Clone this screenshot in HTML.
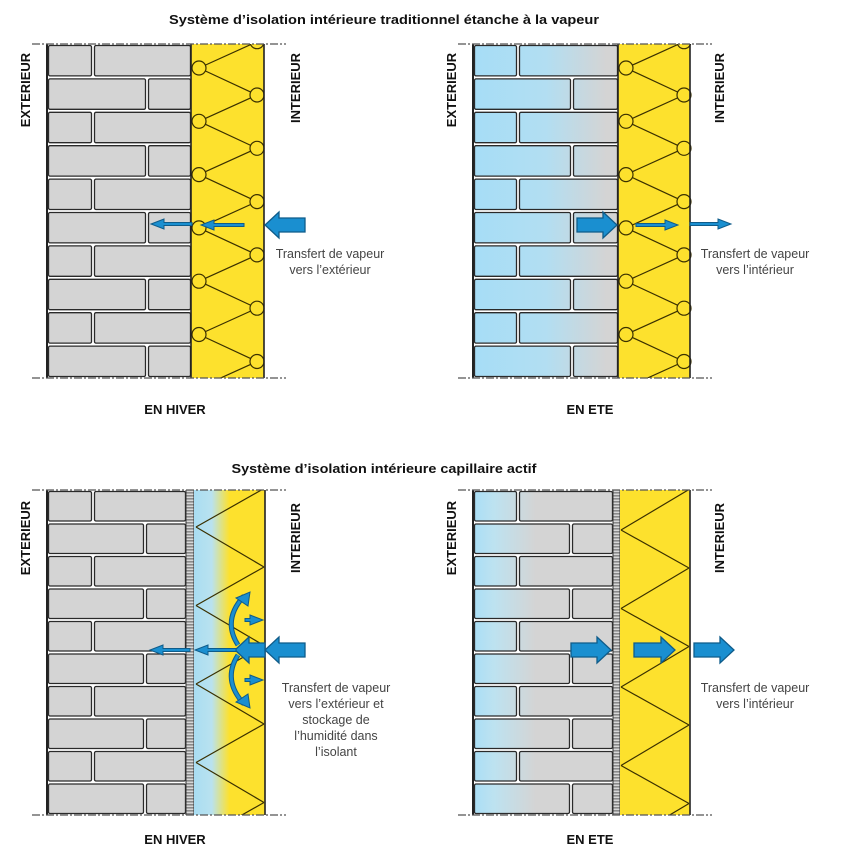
<!DOCTYPE html>
<html><head><meta charset="utf-8"><style>
html,body{margin:0;padding:0;background:#fff;overflow:hidden;width:846px;height:857px}
svg{display:block}
text{font-family:"Liberation Sans",sans-serif}
.t{font-weight:bold;font-size:13px;fill:#111}
.l{font-weight:bold;font-size:13px;fill:#111}
.d{font-size:12.5px;fill:#444}
</style></head><body>
<svg id="s" width="846" height="857" viewBox="0 0 846 857" xmlns="http://www.w3.org/2000/svg">
<defs>
<linearGradient id="gTR" x1="473" x2="618" y1="0" y2="0" gradientUnits="userSpaceOnUse">
<stop offset="0" stop-color="#a6ddf6"/><stop offset="0.5" stop-color="#b2def2"/><stop offset="0.92" stop-color="#d4d4d4"/></linearGradient>
<linearGradient id="gBR" x1="473" x2="613" y1="0" y2="0" gradientUnits="userSpaceOnUse">
<stop offset="0" stop-color="#a9def6"/><stop offset="0.15" stop-color="#bde2f0"/><stop offset="0.45" stop-color="#d4d4d4"/><stop offset="1" stop-color="#d4d4d4"/></linearGradient>
<linearGradient id="gBL" x1="194" x2="265" y1="0" y2="0" gradientUnits="userSpaceOnUse">
<stop offset="0" stop-color="#a9ddf2"/><stop offset="0.25" stop-color="#b9e2ef"/><stop offset="0.5" stop-color="#fde12d"/><stop offset="1" stop-color="#fde12d"/></linearGradient>
<pattern id="mesh" width="8" height="3" patternUnits="userSpaceOnUse"><rect width="8" height="3" fill="#8a8a8a"/><rect y="1.6" width="8" height="1.4" fill="#d8d8d8"/></pattern>
</defs>
<g id="g"></g>
<text class="t" x="384" y="24" text-anchor="middle" textLength="430" lengthAdjust="spacingAndGlyphs">Système d’isolation intérieure traditionnel étanche à la vapeur</text>
<text class="t" x="384" y="473" text-anchor="middle" textLength="305" lengthAdjust="spacingAndGlyphs">Système d’isolation intérieure capillaire actif</text>
<text class="l" transform="translate(30,90) rotate(-90)" text-anchor="middle">EXTERIEUR</text>
<text class="l" transform="translate(300,88) rotate(-90)" text-anchor="middle">INTERIEUR</text>
<text class="l" transform="translate(456,90) rotate(-90)" text-anchor="middle">EXTERIEUR</text>
<text class="l" transform="translate(724,88) rotate(-90)" text-anchor="middle">INTERIEUR</text>
<text class="l" transform="translate(30,538) rotate(-90)" text-anchor="middle">EXTERIEUR</text>
<text class="l" transform="translate(300,538) rotate(-90)" text-anchor="middle">INTERIEUR</text>
<text class="l" transform="translate(456,538) rotate(-90)" text-anchor="middle">EXTERIEUR</text>
<text class="l" transform="translate(724,538) rotate(-90)" text-anchor="middle">INTERIEUR</text>
<text class="l" x="175" y="414" text-anchor="middle">EN HIVER</text>
<text class="l" x="590" y="414" text-anchor="middle">EN ETE</text>
<text class="l" x="175" y="844" text-anchor="middle">EN HIVER</text>
<text class="l" x="590" y="844" text-anchor="middle">EN ETE</text>
<text class="d" x="330" y="258" text-anchor="middle">Transfert de vapeur</text>
<text class="d" x="330" y="274" text-anchor="middle">vers l’extérieur</text>
<text class="d" x="755" y="258" text-anchor="middle">Transfert de vapeur</text>
<text class="d" x="755" y="274" text-anchor="middle">vers l’intérieur</text>
<text class="d" x="336" y="692" text-anchor="middle">Transfert de vapeur</text>
<text class="d" x="336" y="708" text-anchor="middle">vers l’extérieur et</text>
<text class="d" x="336" y="724" text-anchor="middle">stockage de</text>
<text class="d" x="336" y="740" text-anchor="middle">l’humidité dans</text>
<text class="d" x="336" y="756" text-anchor="middle">l’isolant</text>
<text class="d" x="755" y="692" text-anchor="middle">Transfert de vapeur</text>
<text class="d" x="755" y="708" text-anchor="middle">vers l’intérieur</text>
</svg>
<script>
var G=document.getElementById("g"),h="";
function R(x,y,w,hh,f,s,sw,rx){h+='<rect x="'+x+'" y="'+y+'" width="'+w+'" height="'+hh+'" fill="'+f+'" stroke="'+(s||"none")+'" stroke-width="'+(sw||1)+'" rx="'+(rx||0)+'"/>';}
function L(x1,y1,x2,y2,s,sw,da){h+='<line x1="'+x1+'" y1="'+y1+'" x2="'+x2+'" y2="'+y2+'" stroke="'+s+'" stroke-width="'+sw+'"'+(da?' stroke-dasharray="'+da+'"':'')+'/>';}
function wall(x0,x1,y0,y1,rows,jA,jB,fill){
 R(x0,y0,x1-x0,y1-y0,"#fff");
 var rh=(y1-y0)/rows;
 for(var r=0;r<rows;r++){var y=y0+r*rh,j=x0+(r%2?jB:jA);
  R(x0+1.5,y+1.5,j-x0-3,rh-3,fill,"#2a2a2a",1.3,1.5);
  R(j+1.5,y+1.5,x1-j-2,rh-3,fill,"#2a2a2a",1.3,1.5);}
 L(x0,y0,x0,y1,"#222",2);
}
function dash(x0,x1,y){L(x0,y,x1,y,"#555",1.2,"8 2 2 2");}
function zz(xl,xr,yl,yr,y0,y1,per,circ){
 var a=[],b=[];
 for(var k=-2;k<10;k++){a.push(yl+k*per);b.push(yr+k*per);}
 var d="";
 for(var k=0;k<a.length;k++){d+="M"+xl+" "+a[k]+" L"+xr+" "+b[k]+" M"+xl+" "+a[k]+" L"+xr+" "+(b[k]-per)+" ";}
 h+='<g clip-path="url(#c'+circ.id+')"><path d="'+d+'" fill="none" stroke="#3a3000" stroke-width="1.2"/>';
 if(circ.r){for(var k=0;k<a.length;k++){h+='<circle cx="'+xl+'" cy="'+a[k]+'" r="'+circ.r+'" fill="#fde12d" stroke="#3a3000" stroke-width="1.2"/><circle cx="'+xr+'" cy="'+b[k]+'" r="'+circ.r+'" fill="#fde12d" stroke="#3a3000" stroke-width="1.2"/>';}}
 h+='</g>';
 h+='<clipPath id="c'+circ.id+'"><rect x="'+(xl-10)+'" y="'+y0+'" width="'+(xr-xl+20)+'" height="'+(y1-y0)+'"/></clipPath>';
}
function big(x,y,w,dir){
 var s=dir, hw=7, hh=13, hl=14;
 var t=x, e=x+s*w, b=e-s*hl;
 h+='<path d="M'+t+' '+(y-hw)+' L'+b+' '+(y-hw)+' L'+b+' '+(y-hh)+' L'+e+' '+y+' L'+b+' '+(y+hh)+' L'+b+' '+(y+hw)+' L'+t+' '+(y+hw)+'Z" fill="#1a8fd0" stroke="#0f5c8a" stroke-width="1.3"/>';
}
function thin(x1,x2,y){var s=x2>x1?1:-1,b=x2-s*13;
 h+='<path d="M'+x1+' '+(y-1.5)+' L'+b+' '+(y-1.5)+' L'+b+' '+(y-5)+' L'+x2+' '+y+' L'+b+' '+(y+5)+' L'+b+' '+(y+1.5)+' L'+x1+' '+(y+1.5)+'Z" fill="#1a8fd0" stroke="#0f5c8a" stroke-width="1"/>';}
wall(47,191,44,378,10,46,100,"#d4d4d4");
R(191,44,73,334,"#fde12d");
zz(199,257,68,95,44,378,53.3,{id:1,r:7});
L(191,44,191,378,"#222",1.6);L(264,44,264,378,"#222",1.6);
dash(32,286,44);dash(32,286,378);
wall(473,618,44,378,10,45,99,"url(#gTR)");
R(618,44,72,334,"#fde12d");
zz(626,684,68,95,44,378,53.3,{id:2,r:7});
L(618,44,618,378,"#222",1.6);L(690,44,690,378,"#222",1.6);
dash(458,712,44);dash(458,712,378);
wall(47,186,490,815,10,46,98,"#d4d4d4");
R(186,490,8,325,"url(#mesh)");L(186,490,186,815,"#333",1);L(194,490,194,815,"#333",1);
R(194,490,71,325,"url(#gBL)");
zz(196,264,527,567,490,815,78.5,{id:3,r:0});
L(265,490,265,815,"#222",1.6);
dash(32,286,490);dash(32,286,815);
wall(473,613,490,815,10,45,98,"url(#gBR)");
R(613,490,7,325,"url(#mesh)");L(613,490,613,815,"#333",1);L(620,490,620,815,"#333",1);
R(620,490,70,325,"#fde12d");
zz(621,689,530,568,490,815,78.5,{id:4,r:0});
L(690,490,690,815,"#222",1.6);
dash(458,712,490);dash(458,712,815);
big(305,225,40,-1);thin(244,201,225);thin(192,151,224);
big(577,225,40,1);thin(636,678,225);thin(690,731,224);
big(305,650,40,-1);big(265,650,30,-1);thin(236,195,650);thin(190,150,650);
thin(245,263,620);thin(245,263,680);
h+='<path d="M238 645 Q222 620 244 596" fill="none" stroke="#0f5c8a" stroke-width="5"/><path d="M238 645 Q222 620 244 596" fill="none" stroke="#1a8fd0" stroke-width="3"/><path d="M236 598 L250 592 L248 606Z" fill="#1a8fd0" stroke="#0f5c8a"/>';
h+='<path d="M238 655 Q222 680 244 704" fill="none" stroke="#0f5c8a" stroke-width="5"/><path d="M238 655 Q222 680 244 704" fill="none" stroke="#1a8fd0" stroke-width="3"/><path d="M236 702 L250 708 L248 694Z" fill="#1a8fd0" stroke="#0f5c8a"/>';
big(571,650,40,1);big(634,650,41,1);big(694,650,40,1);
G.innerHTML=h;
</script>
</body></html>
